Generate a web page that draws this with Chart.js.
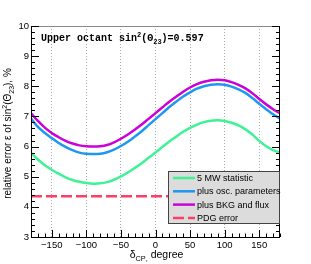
<!DOCTYPE html>
<html>
<head>
<meta charset="utf-8">
<script src="https://cdn.jsdelivr.net/npm/chart.js@4.4.0/dist/chart.umd.min.js"></script>
<style>
  html, body { margin: 0; padding: 0; background: #fff; }
  #wrap { width: 311px; height: 264px; }
</style>
</head>
<body>
<div id="wrap"><canvas id="chart" width="311" height="264"></canvas></div>
<script>
// Data (delta_CP in degrees, relative error in %)
const deltaCP = [-180, -170, -160, -150, -140, -130, -120, -110, -100, -90, -80, -70, -60, -50, -40, -30, -20, -10,
    0, 10, 20, 30, 40, 50, 60, 70, 80, 90, 100, 110, 120, 130, 140, 150, 160, 170, 180];

const statOnly = [5.79, 5.57, 5.38, 5.23, 5.10, 4.98, 4.89, 4.83, 4.79, 4.77, 4.78, 4.82, 4.90, 5.01, 5.14, 5.29, 5.45, 5.63,
    5.80, 5.99, 6.17, 6.33, 6.49, 6.62, 6.73, 6.81, 6.86, 6.87, 6.85, 6.79, 6.70, 6.57, 6.40, 6.19, 6.01, 5.88, 5.79];

const plusOsc = [6.93, 6.65, 6.45, 6.28, 6.12, 5.99, 5.88, 5.80, 5.76, 5.75, 5.76, 5.81, 5.90, 6.02, 6.16, 6.33, 6.51, 6.71,
    6.91, 7.11, 7.31, 7.49, 7.66, 7.80, 7.92, 8.00, 8.05, 8.07, 8.05, 7.99, 7.90, 7.78, 7.61, 7.42, 7.24, 7.07, 6.93];

const plusBkg = [7.10, 6.85, 6.63, 6.45, 6.31, 6.19, 6.10, 6.04, 6.01, 6.00, 6.01, 6.05, 6.14, 6.26, 6.40, 6.56, 6.73, 6.92,
    7.11, 7.30, 7.49, 7.66, 7.82, 7.96, 8.07, 8.15, 8.20, 8.22, 8.20, 8.14, 8.05, 7.93, 7.77, 7.58, 7.40, 7.24, 7.10];

const pdgX = [-180, 180];
const pdgError = [4.35, 4.35];

const seriesLabels = ['5 MW statistic', 'plus osc. parameters', 'plus BKG and flux', 'PDG error'];
const xTicks = [-150, -100, -50, 0, 50, 100, 150];
const yTicks = [3, 4, 5, 6, 7, 8, 9, 10];

const toPoints = (xs, ys) => xs.map((x, i) => ({ x: x, y: ys[i] }));

// Draws text with ROOT-like super/subscripts: parts = [[text, 'n'|'sup'|'sub'], ...]
function drawRich(ctx, parts, x, y, size, family, weight) {
    let cx = x;
    parts.forEach(([txt, kind]) => {
        const s = kind === 'n' ? size : size * 0.7;
        const dy = kind === 'sup' ? -size * 0.4 : kind === 'sub' ? size * 0.3 : 0;
        ctx.font = `${weight || ''} ${s}px ${family}`;
        ctx.fillText(txt, cx, y + dy);
        cx += ctx.measureText(txt).width;
    });
    return cx - x;
}
function richWidth(ctx, parts, size, family, weight) {
    let w = 0;
    parts.forEach(([txt, kind]) => {
        const s = kind === 'n' ? size : size * 0.7;
        ctx.font = `${weight || ''} ${s}px ${family}`;
        w += ctx.measureText(txt).width;
    });
    return w;
}

const sansFont = '"Liberation Sans", Arial, sans-serif';
const monoFont = '"Liberation Mono", "Courier New", monospace';

// Frame, inward ticks, titles, annotation and legend
const rootStyle = {
    id: 'rootStyle',
    afterDatasetsDraw(chart) {
        const { ctx, chartArea: a, scales } = chart;
        const xs = scales.x, ys = scales.y;
        ctx.save();

        // frame
        ctx.lineWidth = 1;
        ctx.strokeStyle = '#888';
        ctx.beginPath();
        ctx.moveTo(a.left, a.top + 0.5);
        ctx.lineTo(a.right, a.top + 0.5);
        ctx.stroke();
        ctx.strokeStyle = '#000';
        ctx.beginPath();
        ctx.moveTo(a.left + 0.5, a.top);
        ctx.lineTo(a.left + 0.5, a.bottom + 0.5);
        ctx.lineTo(a.right, a.bottom + 0.5);
        ctx.moveTo(a.right - 0.5, a.top);
        ctx.lineTo(a.right - 0.5, a.bottom);
        ctx.stroke();

        // x ticks (bottom, inward)
        ctx.beginPath();
        for (let v = -180; v <= 180; v += 10) {
            const px = Math.round(xs.getPixelForValue(v)) + 0.5;
            const len = v % 50 === 0 ? 7 : 3.5;
            ctx.moveTo(px, a.bottom);
            ctx.lineTo(px, a.bottom - len);
        }
        // y ticks (left and right, inward)
        for (let k = 0; k <= 35; k++) {
            const v = 3 + k * 0.2;
            const py = Math.round(ys.getPixelForValue(v)) + 0.5;
            const len = k % 5 === 0 ? 8 : 4;
            ctx.moveTo(a.left, py);
            ctx.lineTo(a.left + len, py);
            ctx.moveTo(a.right, py);
            ctx.lineTo(a.right - len, py);
        }
        ctx.stroke();

        // annotation
        ctx.fillStyle = '#000';
        ctx.textBaseline = 'alphabetic';
        ctx.textAlign = 'left';
        drawRich(ctx, [['Upper octant sin', 'n'], ['2', 'sup'], ['(\u0398', 'n'], ['23', 'sub'], [')=0.597', 'n']],
            a.left + 10, a.top + 15, 10, monoFont, 'bold');

        // x title
        const xParts = [['\u03b4', 'n'], ['CP', 'sub'], [',', 'sub'], [' degree', 'n']];
        const xw = richWidth(ctx, xParts, 10.5, sansFont);
        drawRich(ctx, xParts, (a.left + a.right) / 2 - xw / 2 + 1, 258, 10.5, sansFont);

        // y title
        const yParts = [['relative error \u03b5 of sin', 'n'], ['2', 'sup'], ['(\u0398', 'n'], ['23', 'sub'], ['), %', 'n']];
        const yw = richWidth(ctx, yParts, 10, sansFont);
        ctx.save();
        ctx.translate(11, (a.top + a.bottom) / 2 + 2);
        ctx.rotate(-Math.PI / 2);
        drawRich(ctx, yParts, -yw / 2, 0, 10, sansFont);
        ctx.restore();

        // legend box
        const lx = 168, ly = 171, lw = a.right - lx, lh = 53;
        ctx.fillStyle = '#dcdcdc';
        ctx.fillRect(lx, ly, lw, lh);
        ctx.strokeStyle = '#444';
        ctx.strokeRect(lx + 0.5, ly + 0.5, lw - 1, lh - 1);
        chart.data.datasets.forEach((ds, i) => {
            const y = ly + 7 + i * 13.3;
            ctx.strokeStyle = ds.borderColor;
            ctx.lineWidth = 2.5;
            ctx.setLineDash(ds.borderDash || []);
            ctx.beginPath();
            ctx.moveTo(lx + 5, y);
            ctx.lineTo(lx + 27, y);
            ctx.stroke();
            ctx.setLineDash([]);
            ctx.fillStyle = '#000';
            ctx.font = `9px ${sansFont}`;
            ctx.textBaseline = 'middle';
            ctx.fillText(ds.label, lx + 29, y + 0.5);
        });

        ctx.restore();
    }
};

const lineStyle = { pointRadius: 0, borderWidth: 2.5, tension: 0.35, fill: false };

new Chart(document.getElementById('chart'), {
    type: 'scatter',
    data: {
        datasets: [
            { label: seriesLabels[0], data: toPoints(deltaCP, statOnly), borderColor: '#3ef296', showLine: true, ...lineStyle },
            { label: seriesLabels[1], data: toPoints(deltaCP, plusOsc), borderColor: '#1f97f0', showLine: true, ...lineStyle },
            { label: seriesLabels[2], data: toPoints(deltaCP, plusBkg), borderColor: '#cc00d9', showLine: true, ...lineStyle },
            { label: seriesLabels[3], data: toPoints(pdgX, pdgError), borderColor: '#ff3d66', showLine: true,
              borderDash: [11, 4], ...lineStyle, tension: 0 }
        ]
    },
    options: {
        responsive: false,
        animation: false,
        devicePixelRatio: 1,
        layout: { padding: { top: 26, right: 31, left: 0, bottom: 0 } },
        plugins: {
            legend: { display: false },
            tooltip: { enabled: false }
        },
        scales: {
            x: {
                type: 'linear',
                min: -180,
                max: 180,
                afterBuildTicks: (scale) => { scale.ticks = xTicks.map(v => ({ value: v })); },
                afterFit: (scale) => { scale.height = 27; },
                grid: { display: true, color: '#aaa', lineWidth: 1, drawTicks: false },
                border: { display: false, dash: [1, 2] },
                ticks: {
                    padding: 3,
                    color: '#000',
                    font: { family: sansFont, size: 9.5 },
                    maxRotation: 0,
                    callback: (v) => (v < 0 ? '\u2212' + Math.abs(v) : String(v))
                }
            },
            y: {
                type: 'linear',
                min: 3,
                max: 10,
                afterBuildTicks: (scale) => { scale.ticks = yTicks.map(v => ({ value: v })); },
                afterFit: (scale) => { scale.width = 31; },
                grid: { display: false, drawTicks: false },
                border: { display: false },
                ticks: {
                    padding: 2,
                    color: '#000',
                    font: { family: sansFont, size: 9.5 }
                }
            }
        }
    },
    plugins: [rootStyle]
});
</script>
</body>
</html>
